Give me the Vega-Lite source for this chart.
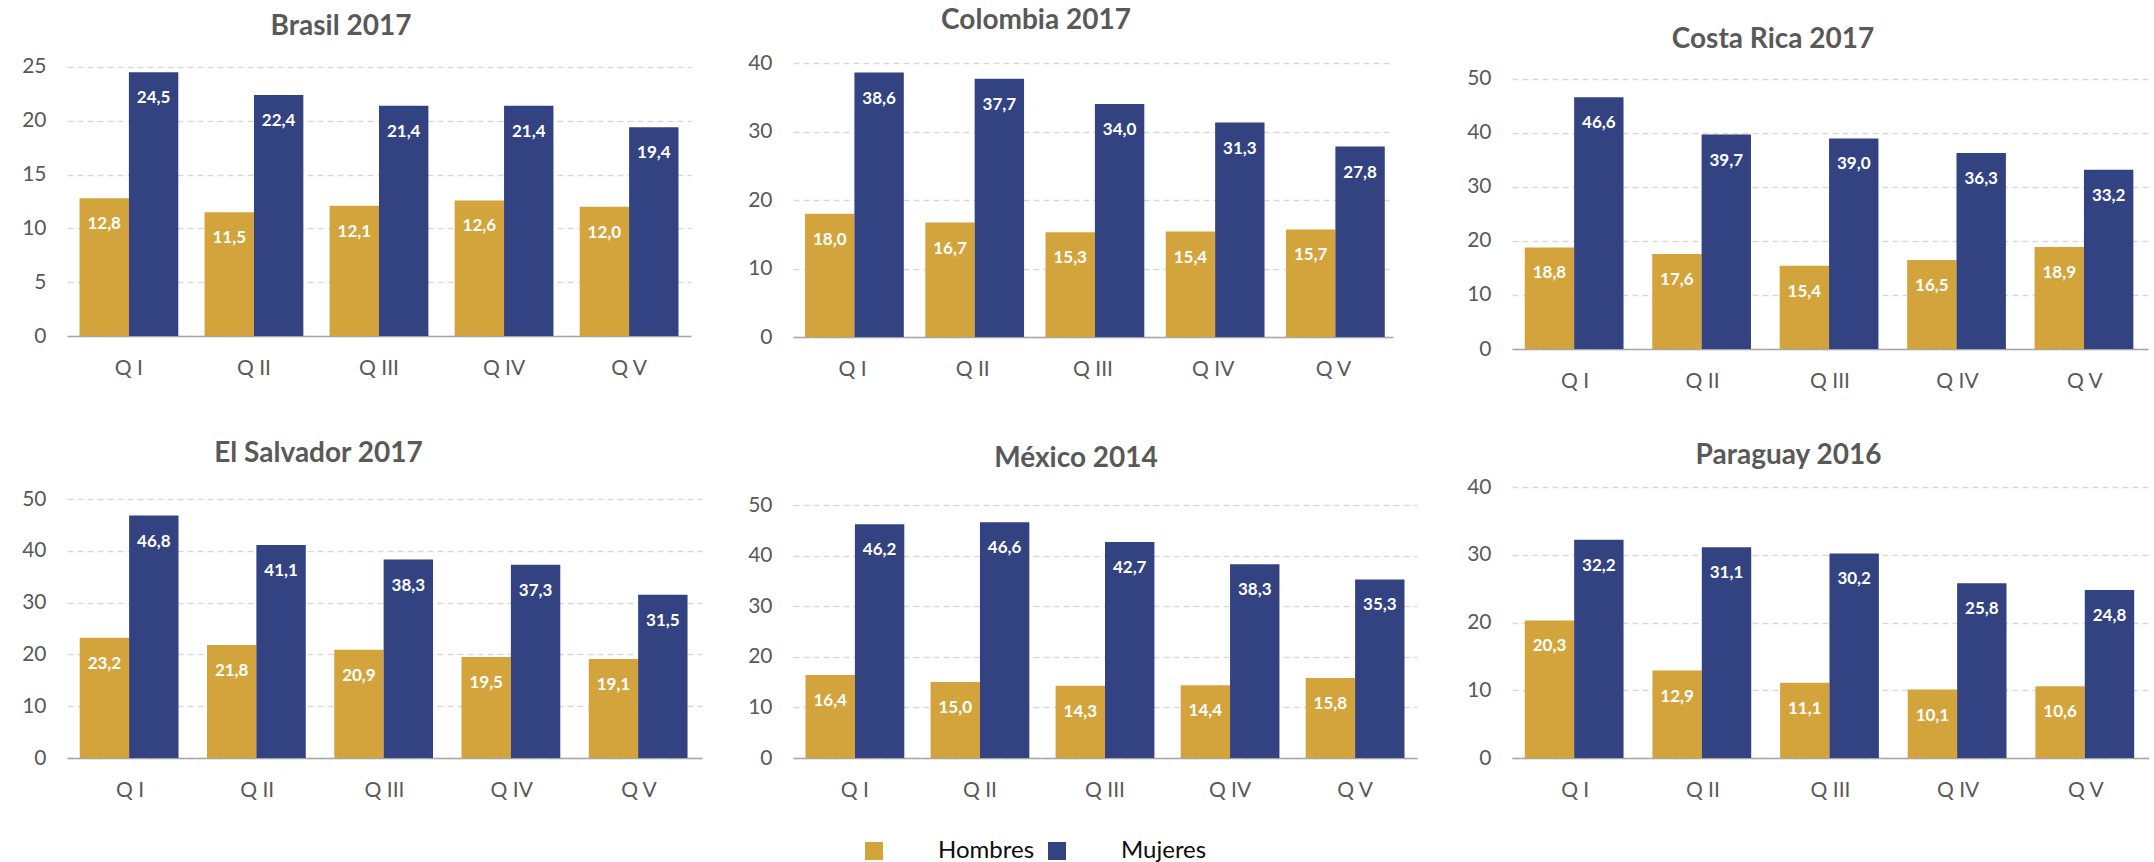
{
  "$schema": "https://vega.github.io/schema/vega-lite/v6.json",
  "background": "white",
  "padding": {"left": 21, "top": 7, "right": 0, "bottom": 0},
  "config": {
    "locale": {"number": {"decimal": ",", "thousands": ".", "grouping": [3], "currency": ["", " €"]}},
    "font": "Lato",
    "view": {"stroke": null},
    "title": {"font": "Lato", "fontSize": 28, "fontWeight": "bold", "color": "#595959", "anchor": "middle", "frame": "group"},
    "axisY": {"labelFont": "Lato", "labelFontSize": 21, "labelColor": "#595959", "labelPadding": 21, "domain": false, "ticks": false, "grid": true, "gridColor": "#D9D9D9", "gridDash": [6, 4], "gridWidth": 1.3, "title": "\u00a0", "titleFontSize": 1, "titlePadding": 0},
    "axisX": {"labelFont": "Lato", "labelFontSize": 21, "labelColor": "#595959", "labelPadding": 21, "domain": true, "domainColor": "#A6A6A6", "domainWidth": 1.5, "ticks": false, "grid": false, "labelAngle": 0, "title": null},
    "legend": {"labelFont": "Lato", "labelFontSize": 24, "labelColor": "#0D0D0D"}
  },
  "data": {"values": [
    {"pais": "Brasil", "q": "Q I", "sexo": "Hombres", "valor": 12.8},
    {"pais": "Brasil", "q": "Q II", "sexo": "Hombres", "valor": 11.5},
    {"pais": "Brasil", "q": "Q III", "sexo": "Hombres", "valor": 12.1},
    {"pais": "Brasil", "q": "Q IV", "sexo": "Hombres", "valor": 12.6},
    {"pais": "Brasil", "q": "Q V", "sexo": "Hombres", "valor": 12.0},
    {"pais": "Brasil", "q": "Q I", "sexo": "Mujeres", "valor": 24.5},
    {"pais": "Brasil", "q": "Q II", "sexo": "Mujeres", "valor": 22.4},
    {"pais": "Brasil", "q": "Q III", "sexo": "Mujeres", "valor": 21.4},
    {"pais": "Brasil", "q": "Q IV", "sexo": "Mujeres", "valor": 21.4},
    {"pais": "Brasil", "q": "Q V", "sexo": "Mujeres", "valor": 19.4},
    {"pais": "Colombia", "q": "Q I", "sexo": "Hombres", "valor": 18.0},
    {"pais": "Colombia", "q": "Q II", "sexo": "Hombres", "valor": 16.7},
    {"pais": "Colombia", "q": "Q III", "sexo": "Hombres", "valor": 15.3},
    {"pais": "Colombia", "q": "Q IV", "sexo": "Hombres", "valor": 15.4},
    {"pais": "Colombia", "q": "Q V", "sexo": "Hombres", "valor": 15.7},
    {"pais": "Colombia", "q": "Q I", "sexo": "Mujeres", "valor": 38.6},
    {"pais": "Colombia", "q": "Q II", "sexo": "Mujeres", "valor": 37.7},
    {"pais": "Colombia", "q": "Q III", "sexo": "Mujeres", "valor": 34.0},
    {"pais": "Colombia", "q": "Q IV", "sexo": "Mujeres", "valor": 31.3},
    {"pais": "Colombia", "q": "Q V", "sexo": "Mujeres", "valor": 27.8},
    {"pais": "Costa Rica", "q": "Q I", "sexo": "Hombres", "valor": 18.8},
    {"pais": "Costa Rica", "q": "Q II", "sexo": "Hombres", "valor": 17.6},
    {"pais": "Costa Rica", "q": "Q III", "sexo": "Hombres", "valor": 15.4},
    {"pais": "Costa Rica", "q": "Q IV", "sexo": "Hombres", "valor": 16.5},
    {"pais": "Costa Rica", "q": "Q V", "sexo": "Hombres", "valor": 18.9},
    {"pais": "Costa Rica", "q": "Q I", "sexo": "Mujeres", "valor": 46.6},
    {"pais": "Costa Rica", "q": "Q II", "sexo": "Mujeres", "valor": 39.7},
    {"pais": "Costa Rica", "q": "Q III", "sexo": "Mujeres", "valor": 39.0},
    {"pais": "Costa Rica", "q": "Q IV", "sexo": "Mujeres", "valor": 36.3},
    {"pais": "Costa Rica", "q": "Q V", "sexo": "Mujeres", "valor": 33.2},
    {"pais": "El Salvador", "q": "Q I", "sexo": "Hombres", "valor": 23.2},
    {"pais": "El Salvador", "q": "Q II", "sexo": "Hombres", "valor": 21.8},
    {"pais": "El Salvador", "q": "Q III", "sexo": "Hombres", "valor": 20.9},
    {"pais": "El Salvador", "q": "Q IV", "sexo": "Hombres", "valor": 19.5},
    {"pais": "El Salvador", "q": "Q V", "sexo": "Hombres", "valor": 19.1},
    {"pais": "El Salvador", "q": "Q I", "sexo": "Mujeres", "valor": 46.8},
    {"pais": "El Salvador", "q": "Q II", "sexo": "Mujeres", "valor": 41.1},
    {"pais": "El Salvador", "q": "Q III", "sexo": "Mujeres", "valor": 38.3},
    {"pais": "El Salvador", "q": "Q IV", "sexo": "Mujeres", "valor": 37.3},
    {"pais": "El Salvador", "q": "Q V", "sexo": "Mujeres", "valor": 31.5},
    {"pais": "México", "q": "Q I", "sexo": "Hombres", "valor": 16.4},
    {"pais": "México", "q": "Q II", "sexo": "Hombres", "valor": 15.0},
    {"pais": "México", "q": "Q III", "sexo": "Hombres", "valor": 14.3},
    {"pais": "México", "q": "Q IV", "sexo": "Hombres", "valor": 14.4},
    {"pais": "México", "q": "Q V", "sexo": "Hombres", "valor": 15.8},
    {"pais": "México", "q": "Q I", "sexo": "Mujeres", "valor": 46.2},
    {"pais": "México", "q": "Q II", "sexo": "Mujeres", "valor": 46.6},
    {"pais": "México", "q": "Q III", "sexo": "Mujeres", "valor": 42.7},
    {"pais": "México", "q": "Q IV", "sexo": "Mujeres", "valor": 38.3},
    {"pais": "México", "q": "Q V", "sexo": "Mujeres", "valor": 35.3},
    {"pais": "Paraguay", "q": "Q I", "sexo": "Hombres", "valor": 20.3},
    {"pais": "Paraguay", "q": "Q II", "sexo": "Hombres", "valor": 12.9},
    {"pais": "Paraguay", "q": "Q III", "sexo": "Hombres", "valor": 11.1},
    {"pais": "Paraguay", "q": "Q IV", "sexo": "Hombres", "valor": 10.1},
    {"pais": "Paraguay", "q": "Q V", "sexo": "Hombres", "valor": 10.6},
    {"pais": "Paraguay", "q": "Q I", "sexo": "Mujeres", "valor": 32.2},
    {"pais": "Paraguay", "q": "Q II", "sexo": "Mujeres", "valor": 31.1},
    {"pais": "Paraguay", "q": "Q III", "sexo": "Mujeres", "valor": 30.2},
    {"pais": "Paraguay", "q": "Q IV", "sexo": "Mujeres", "valor": 25.8},
    {"pais": "Paraguay", "q": "Q V", "sexo": "Mujeres", "valor": 24.8}
  ]},
  "resolve": {"scale": {"color": "shared"}, "legend": {"color": "shared"}},
  "spacing": 45,
  "hconcat": [
    {
      "spacing": 62,
      "vconcat": [
        {
          "title": {"text": "Brasil 2017", "offset": 15, "dx": -38},
          "width": 624, "height": 273,
          "transform": [{"filter": "datum.pais == 'Brasil'"}],
          "encoding": {
            "x": {"field": "q", "type": "nominal", "sort": ["Q I", "Q II", "Q III", "Q IV", "Q V"], "scale": {"paddingInner": 0.21, "paddingOuter": 0.1}},
            "xOffset": {"field": "sexo", "sort": ["Hombres", "Mujeres"]},
            "y": {"field": "valor", "type": "quantitative", "scale": {"domain": [0, 25.37], "nice": false}, "axis": {"values": [0, 5, 10, 15, 20, 25], "minExtent": 46, "maxExtent": 46}}
          },
          "layer": [
            {"mark": {"type": "bar"}, "encoding": {"color": {"field": "sexo", "type": "nominal", "scale": {"domain": ["Hombres", "Mujeres"], "range": ["#D4A43C", "#334381"]}, "legend": {"title": null, "orient": "none", "legendX": 795, "legendY": 776, "direction": "horizontal", "symbolType": "square", "symbolSize": 324, "symbolStrokeWidth": 0, "labelOffset": 52, "columnPadding": 10}}}},
            {"mark": {"type": "text", "baseline": "middle", "dy": 26, "fontSize": 17, "fontWeight": "bold", "color": "white"}, "encoding": {"text": {"field": "valor", "type": "quantitative", "format": ".1f"}}}
          ]
        },
        {
          "title": {"text": "El Salvador 2017", "offset": 20, "dx": -66},
          "width": 635, "height": 259,
          "transform": [{"filter": "datum.pais == 'El Salvador'"}],
          "encoding": {
            "x": {"field": "q", "type": "nominal", "sort": ["Q I", "Q II", "Q III", "Q IV", "Q V"], "scale": {"paddingInner": 0.21, "paddingOuter": 0.1}},
            "xOffset": {"field": "sexo", "sort": ["Hombres", "Mujeres"]},
            "y": {"field": "valor", "type": "quantitative", "scale": {"domain": [0, 50], "nice": false}, "axis": {"values": [0, 10, 20, 30, 40, 50], "minExtent": 46, "maxExtent": 46}}
          },
          "layer": [
            {"mark": {"type": "bar"}, "encoding": {"color": {"field": "sexo", "type": "nominal"}}},
            {"mark": {"type": "text", "baseline": "middle", "dy": 26, "fontSize": 17, "fontWeight": "bold", "color": "white"}, "encoding": {"text": {"field": "valor", "type": "quantitative", "format": ".1f"}}}
          ]
        }
      ]
    },
    {
      "spacing": 66,
      "vconcat": [
        {
          "title": {"text": "Colombia 2017", "offset": 17, "dx": -57},
          "width": 600, "height": 274,
          "transform": [{"filter": "datum.pais == 'Colombia'"}],
          "encoding": {
            "x": {"field": "q", "type": "nominal", "sort": ["Q I", "Q II", "Q III", "Q IV", "Q V"], "scale": {"paddingInner": 0.21, "paddingOuter": 0.1}},
            "xOffset": {"field": "sexo", "sort": ["Hombres", "Mujeres"]},
            "y": {"field": "valor", "type": "quantitative", "scale": {"domain": [0, 40], "nice": false}, "axis": {"values": [0, 10, 20, 30, 40], "minExtent": 46, "maxExtent": 46}}
          },
          "layer": [
            {"mark": {"type": "bar"}, "encoding": {"color": {"field": "sexo", "type": "nominal"}}},
            {"mark": {"type": "text", "baseline": "middle", "dy": 26, "fontSize": 17, "fontWeight": "bold", "color": "white"}, "encoding": {"text": {"field": "valor", "type": "quantitative", "format": ".1f"}}}
          ]
        },
        {
          "title": {"text": "México 2014", "offset": 21, "dx": -29},
          "width": 624, "height": 253,
          "transform": [{"filter": "datum.pais == 'México'"}],
          "encoding": {
            "x": {"field": "q", "type": "nominal", "sort": ["Q I", "Q II", "Q III", "Q IV", "Q V"], "scale": {"paddingInner": 0.21, "paddingOuter": 0.1}},
            "xOffset": {"field": "sexo", "sort": ["Hombres", "Mujeres"]},
            "y": {"field": "valor", "type": "quantitative", "scale": {"domain": [0, 50], "nice": false}, "axis": {"values": [0, 10, 20, 30, 40, 50], "minExtent": 46, "maxExtent": 46}}
          },
          "layer": [
            {"mark": {"type": "bar"}, "encoding": {"color": {"field": "sexo", "type": "nominal"}}},
            {"mark": {"type": "text", "baseline": "middle", "dy": 26, "fontSize": 17, "fontWeight": "bold", "color": "white"}, "encoding": {"text": {"field": "valor", "type": "quantitative", "format": ".1f"}}}
          ]
        }
      ]
    },
    {
      "spacing": 51,
      "vconcat": [
        {
          "title": {"text": "Costa Rica 2017", "offset": 9, "dx": -57},
          "width": 636, "height": 286,
          "transform": [{"filter": "datum.pais == 'Costa Rica'"}],
          "encoding": {
            "x": {"field": "q", "type": "nominal", "sort": ["Q I", "Q II", "Q III", "Q IV", "Q V"], "scale": {"paddingInner": 0.21, "paddingOuter": 0.1}},
            "xOffset": {"field": "sexo", "sort": ["Hombres", "Mujeres"]},
            "y": {"field": "valor", "type": "quantitative", "scale": {"domain": [0, 52.96], "nice": false}, "axis": {"values": [0, 10, 20, 30, 40, 50], "minExtent": 50, "maxExtent": 50}}
          },
          "layer": [
            {"mark": {"type": "bar"}, "encoding": {"color": {"field": "sexo", "type": "nominal"}}},
            {"mark": {"type": "text", "baseline": "middle", "dy": 26, "fontSize": 17, "fontWeight": "bold", "color": "white"}, "encoding": {"text": {"field": "valor", "type": "quantitative", "format": ".1f"}}}
          ]
        },
        {
          "title": {"text": "Paraguay 2016", "offset": 6, "dx": -42},
          "width": 637, "height": 271,
          "transform": [{"filter": "datum.pais == 'Paraguay'"}],
          "encoding": {
            "x": {"field": "q", "type": "nominal", "sort": ["Q I", "Q II", "Q III", "Q IV", "Q V"], "scale": {"paddingInner": 0.21, "paddingOuter": 0.1}},
            "xOffset": {"field": "sexo", "sort": ["Hombres", "Mujeres"]},
            "y": {"field": "valor", "type": "quantitative", "scale": {"domain": [0, 40], "nice": false}, "axis": {"values": [0, 10, 20, 30, 40], "minExtent": 50, "maxExtent": 50}}
          },
          "layer": [
            {"mark": {"type": "bar"}, "encoding": {"color": {"field": "sexo", "type": "nominal"}}},
            {"mark": {"type": "text", "baseline": "middle", "dy": 26, "fontSize": 17, "fontWeight": "bold", "color": "white"}, "encoding": {"text": {"field": "valor", "type": "quantitative", "format": ".1f"}}}
          ]
        }
      ]
    }
  ]
}
